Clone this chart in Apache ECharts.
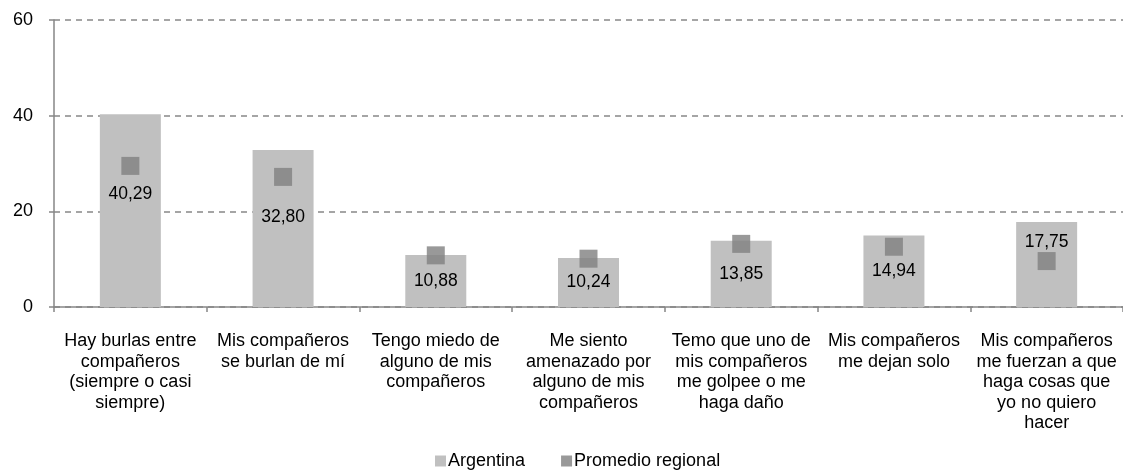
<!DOCTYPE html>
<html>
<head>
<meta charset="utf-8">
<script src="https://cdn.jsdelivr.net/npm/echarts@6/dist/echarts.min.js"></script>
<style>
  html, body { margin: 0; padding: 0; background: #fff; }
  #chart { width: 1123px; height: 471px; }
</style>
</head>
<body>
<div id="chart"></div>
<script>
const categories = [
    'Hay burlas entre\ncompañeros\n(siempre o casi\nsiempre)',
    'Mis compañeros\nse burlan de mí',
    'Tengo miedo de\nalguno de mis\ncompañeros',
    'Me siento\namenazado por\nalguno de mis\ncompañeros',
    'Temo que uno de\nmis compañeros\nme golpee o me\nhaga daño',
    'Mis compañeros\nme dejan solo',
    'Mis compañeros\nme fuerzan a que\nhaga cosas que\nyo no quiero\nhacer'
];
const argentina = [40.29, 32.80, 10.88, 10.24, 13.85, 14.94, 17.75];
const promedio = [29.5, 27.2, 10.8, 10.1, 13.2, 12.6, 9.6];
const yTicks = [0, 20, 40, 60];

// nudges for the value labels so they don't sit on the squares
const labelShift = [-16, -11, 0, 0, 0, 0, -22];

const chart = echarts.init(document.getElementById('chart'));
const font = 'Liberation Sans, Arial, sans-serif';

chart.setOption({
    animation: false,
    textStyle: { fontFamily: font },
    grid: { left: 54, right: 0, top: 20, bottom: 164, containLabel: false },
    legend: {
        top: 452,
        left: 435,
        padding: 0,
        itemWidth: 11,
        itemHeight: 11,
        itemGap: 36,
        textStyle: { fontSize: 18, color: '#000', fontFamily: font, padding: [0, 0, 0, -3] },
        data: [
            { name: 'Argentina', icon: 'rect' },
            { name: 'Promedio regional', icon: 'rect' }
        ]
    },
    xAxis: {
        type: 'category',
        data: categories,
        boundaryGap: true,
        axisLine: { lineStyle: { color: '#868686', width: 1.5 } },
        axisTick: { show: true, length: 5, lineStyle: { color: '#868686', width: 1.5 } },
        axisLabel: {
            interval: 0,
            color: '#000',
            fontSize: 18,
            lineHeight: 20.5,
            margin: 24,
            fontFamily: font
        }
    },
    yAxis: {
        type: 'value',
        min: yTicks[0],
        max: yTicks[yTicks.length - 1],
        interval: 20,
        axisLine: { show: true, lineStyle: { color: '#868686', width: 1.5 } },
        axisTick: { show: true, length: 5, lineStyle: { color: '#868686', width: 1.5 } },
        axisLabel: { color: '#000', fontSize: 18, margin: 21, fontFamily: font },
        splitLine: { lineStyle: { color: '#888', type: [6, 5], width: 1.5 } }
    },
    series: [
        {
            name: 'Argentina',
            type: 'bar',
            barWidth: 61,
            itemStyle: { color: '#c0c0c0' },
            data: argentina.map((v, i) => ({
                value: v,
                label: { offset: [0, labelShift[i]] }
            })),
            label: {
                show: true,
                position: 'inside',
                color: '#000',
                fontSize: 17.5,
                fontFamily: font,
                formatter: p => p.value.toFixed(2).replace('.', ',')
            },
            z: 2
        },
        {
            name: 'Promedio regional',
            type: 'scatter',
            symbol: 'rect',
            symbolSize: 18,
            itemStyle: { color: '#808080' },
            data: promedio,
            z: 3
        }
    ]
});
</script>
</body>
</html>
